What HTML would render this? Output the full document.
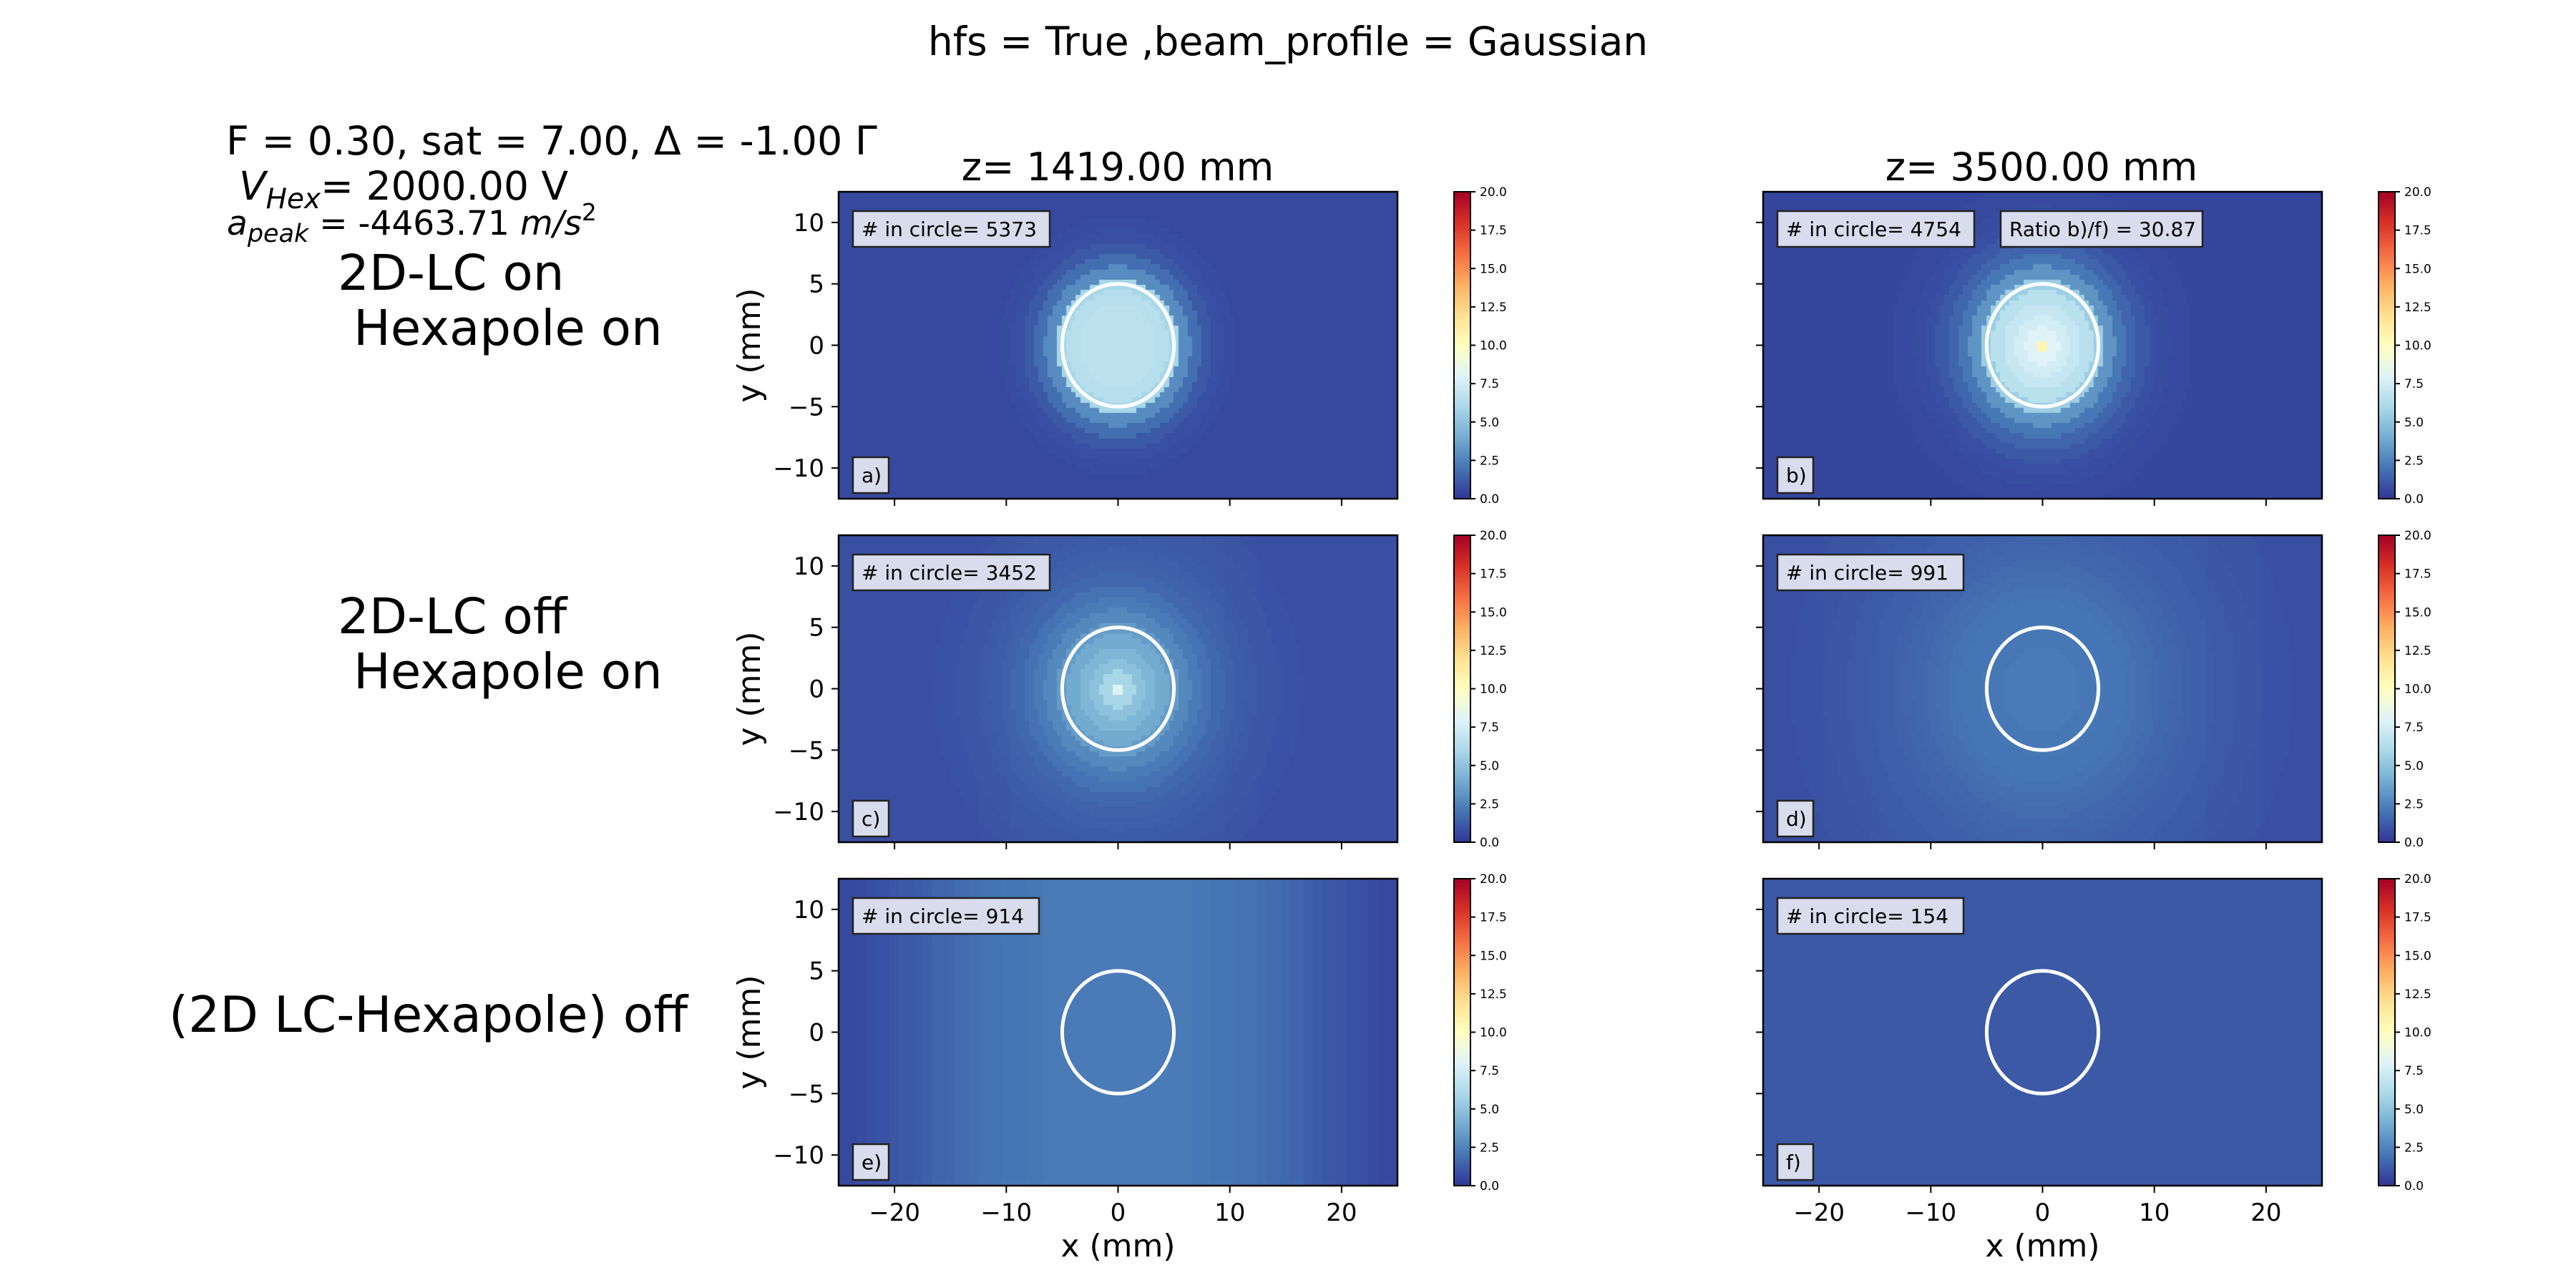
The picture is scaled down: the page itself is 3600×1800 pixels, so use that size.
<!DOCTYPE html>
<html><head><meta charset="utf-8">
<style>
html,body{margin:0;padding:0;background:#fff;}
#wrap{position:relative;width:3600px;height:1800px;overflow:hidden;background:#fff;}
canvas{position:absolute;}
svg{position:absolute;left:0;top:0;}
text{font-family:"DejaVu Sans","Liberation Sans",sans-serif;fill:#000;}
</style></head>
<body>
<div id="wrap">
<svg id="svg" width="3600" height="1800">
<text x="1800" y="77" font-size="55" text-anchor="middle">hfs = True ,beam_profile = Gaussian</text>
<text x="316" y="216" font-size="55.5">F = 0.30, sat = 7.00, Δ = -1.00 Γ</text>
<text x="334" y="279" font-size="55"><tspan font-style="italic">V</tspan><tspan font-style="italic" font-size="39" dy="12">Hex</tspan><tspan dy="-12">= 2000.00 V</tspan></text>
<text x="317" y="328" font-size="47"><tspan font-style="italic">a</tspan><tspan font-style="italic" font-size="35" dy="10">peak</tspan><tspan dy="-10"> = -4463.71 </tspan><tspan font-style="italic">m/s</tspan><tspan font-size="33" dy="-20">2</tspan></text>
<text x="472" y="405" font-size="69">2D-LC on</text>
<text x="494" y="482" font-size="69">Hexapole on</text>
<text x="472" y="885" font-size="69">2D-LC off</text>
<text x="494" y="962" font-size="69">Hexapole on</text>
<text x="236" y="1442" font-size="69.5">(2D LC-Hexapole) off</text>
<text x="1562" y="252" font-size="54" text-anchor="middle">z= 1419.00 mm</text>
<text x="2853" y="252" font-size="54" text-anchor="middle">z= 3500.00 mm</text>
</svg>
</div>
<script>
// ---- data ----
const xTicks = [-20, -10, 0, 10, 20];
const yTicks = [-10, -5, 0, 5, 10];
const cbTicks = [0, 2.5, 5, 7.5, 10, 12.5, 15, 17.5, 20];
const panelLetters = ['a)', 'b)', 'c)', 'd)', 'e)', 'f)'];
const circleCounts = ['5373', '4754', '3452', '991', '914', '154'];
const ratioText = 'Ratio b)/f) = 30.87';
const circleRadius = 5;
// radial profiles (mean counts vs radius in mm, index = mm)
const rProfileA = [6,6,6,6,5.8,5.3,2.2,1.2,0.5,0.2,0.1,0,0,0,0,0,0,0,0,0,0,0,0,0,0,0,0,0,0,0,0,0,0,0,0,0,0,0];
const rProfileB = [10,7.5,7,6.5,6,5,2.6,1.6,1,0.6,0.3,0.2,0.1,0.1,0,0,0,0,0,0,0,0,0,0,0,0,0,0,0,0,0,0,0,0,0,0,0,0];
const rProfileC = [7,5,4,3.5,3,2.5,1.8,1.3,1,0.7,0.5,0.4,0.3,0.2,0.2,0.1,0.1,0,0,0,0,0,0,0,0,0,0,0,0,0,0,0,0,0,0,0,0,0];
const rProfileD = [1.3,1.3,1.3,1.3,1.2,1.2,1.1,1.1,1,0.9,0.8,0.7,0.6,0.5,0.4,0.4,0.3,0.3,0.2,0.2,0.1,0.1,0.1,0,0,0,0,0,0,0,0,0,0,0,0,0,0,0];
const rProfileE = [0,0,0,0,0,0,0,0,0,0,0,0,0,0,0,0,0,0,0,0,0,0,0,0,0,0,0,0,0,0,0,0,0,0,0,0,0,0];
const rProfileF = [0,0,0,0,0,0,0,0,0,0,0,0,0,0,0,0,0,0,0,0,0,0,0,0,0,0,0,0,0,0,0,0,0,0,0,0,0,0];
// background vs |x| (index = mm)
const xProfileA = [0.6,0.6,0.6,0.6,0.6,0.6,0.6,0.6,0.6,0.6,0.6,0.6,0.6,0.6,0.6,0.6,0.6,0.6,0.6,0.6,0.6,0.6,0.6,0.6,0.6,0.6];
const xProfileB = [0.5,0.5,0.5,0.5,0.5,0.5,0.5,0.5,0.5,0.5,0.5,0.5,0.5,0.5,0.5,0.5,0.5,0.5,0.5,0.5,0.5,0.5,0.5,0.5,0.5,0.5];
const xProfileC = [0.9,0.9,0.9,0.9,0.9,0.9,0.9,0.9,0.9,0.9,0.85,0.85,0.85,0.8,0.8,0.8,0.8,0.8,0.8,0.8,0.8,0.8,0.8,0.8,0.8,0.8];
const xProfileD = [0.9,0.9,0.9,0.9,0.9,0.9,0.9,0.9,0.9,0.9,0.9,0.9,0.9,0.9,0.9,0.85,0.85,0.85,0.85,0.85,0.8,0.8,0.8,0.8,0.8,0.8];
const xProfileE = [2.2,2.2,2.2,2.2,2.2,2.2,2.2,2.1,2.1,2,2,1.9,1.9,1.8,1.7,1.6,1.5,1.3,1.2,1.1,1,0.9,0.8,0.7,0.6,0.6];
const xProfileF = [1.1,1.1,1.1,1.1,1.1,1.1,1.1,1.1,1.1,1.1,1.1,1.1,1.1,1.1,1.1,1.1,1.1,1.1,1.1,1.1,1.1,1.1,1.1,1.1,1.1,1.1];

const rProfiles = [rProfileA, rProfileB, rProfileC, rProfileD, rProfileE, rProfileF];
const xProfiles = [xProfileA, xProfileB, xProfileC, xProfileD, xProfileE, xProfileF];

// ---- layout ----
const colLeft = [1172, 2464];
const rowTop = [268, 748, 1228];
const PW = 781, PH = 429;
const XMIN = -25, XMAX = 25, YMIN = -12.5, YMAX = 12.5;
const NX = 120, NY = 60;
const VMAX = 20;
const cmapStops = ['#313695','#4575b4','#74add1','#abd9e9','#e0f3f8','#ffffbf','#fee090','#fdae61','#f46d43','#d73027','#a50026'];

function hex2rgb(h){return [parseInt(h.substr(1,2),16),parseInt(h.substr(3,2),16),parseInt(h.substr(5,2),16)];}
const stopRGB = cmapStops.map(hex2rgb);
function cmap(v){
  let t = Math.max(0, Math.min(1, v / VMAX)) * 10;
  let i = Math.min(9, Math.floor(t)), f = t - i;
  const a = stopRGB[i], b = stopRGB[i+1];
  return 'rgb(' + [0,1,2].map(k => Math.round(a[k] + (b[k]-a[k])*f)).join(',') + ')';
}

const NS = 'http://www.w3.org/2000/svg';
const svg = document.getElementById('svg');
const wrap = document.getElementById('wrap');
function el(tag, attrs, parent){
  const e = document.createElementNS(NS, tag);
  for (const k in attrs) e.setAttribute(k, attrs[k]);
  (parent || svg).appendChild(e);
  return e;
}

for (let p = 0; p < 6; p++) {
  const col = p % 2, row = Math.floor(p / 2);
  const L = colLeft[col], T = rowTop[row];
  const sx = v => L + (v - XMIN) / (XMAX - XMIN) * PW;
  const sy = v => T + (YMAX - v) / (YMAX - YMIN) * PH;

  // heatmap
  const cv = document.createElement('canvas');
  cv.width = PW; cv.height = PH;
  cv.style.left = L + 'px'; cv.style.top = T + 'px';
  
  
  wrap.insertBefore(cv, svg);
  const ctx = cv.getContext('2d');
  const rp = rProfiles[p], xp = xProfiles[p];
  const dx = (XMAX - XMIN) / NX, dy = (YMAX - YMIN) / NY;
  for (let i = 0; i < NX; i++) {
    for (let j = 0; j < NY; j++) {
      const xc = XMIN + (i + 0.5) * dx, yc = YMIN + (j + 0.5) * dy;
      const r = Math.sqrt(xc*xc + yc*yc);
      const ri = Math.min(rp.length - 1, Math.round(r));
      const xi = Math.min(xp.length - 1, Math.round(Math.abs(xc)));
      const v = rp[ri] + xp[xi];
      ctx.fillStyle = cmap(v);
      const x0 = sx(XMIN + i*dx) - L, x1 = sx(XMIN + (i+1)*dx) - L;
      const y0 = sy(YMIN + (j+1)*dy) - T, y1 = sy(YMIN + j*dy) - T;
      ctx.fillRect(Math.floor(x0), Math.floor(y0), Math.ceil(x1 - x0) + 1, Math.ceil(y1 - y0) + 1);
    }
  }

  const g = el('g', {});
  
  

  // circle
  const c = el('ellipse', {cx: sx(0), cy: sy(0), rx: sx(circleRadius) - sx(0), ry: sy(0) - sy(circleRadius), fill: 'none', stroke: '#fff', 'stroke-width': 5}, g);
  
  

  // frame
  const fr = el('rect', {x: L, y: T, width: PW, height: PH, fill: 'none', stroke: '#000', 'stroke-width': 2.5}, g);
  
  

  // ticks
  xTicks.forEach(t => {
    const tk = el('line', {x1: sx(t), x2: sx(t), y1: T + PH, y2: T + PH + 10, stroke: '#000', 'stroke-width': 2}, g);
    
    
    if (row === 2) {
      const tl = el('text', {x: sx(t), y: T + PH + 49, 'font-size': 34, 'text-anchor': 'middle'}, g);
      tl.textContent = (t < 0 ? '\u2212' + Math.abs(t) : '' + t);
      
      
    }
  });
  yTicks.forEach(t => {
    const tk = el('line', {x1: L - 10, x2: L, y1: sy(t), y2: sy(t), stroke: '#000', 'stroke-width': 2}, g);
    
    
    if (col === 0) {
      const tl = el('text', {x: L - 20, y: sy(t) + 12, 'font-size': 34, 'text-anchor': 'end'}, g);
      tl.textContent = (t < 0 ? '\u2212' + Math.abs(t) : '' + t);
      
      
    }
  });
  if (col === 0) {
    const yl = el('text', {x: 0, y: 0, 'font-size': 44, 'text-anchor': 'middle', transform: 'translate(1062,' + (T + PH/2) + ') rotate(-90)'}, g);
    yl.textContent = 'y (mm)';
    
    
  }
  if (row === 2) {
    const xl = el('text', {x: L + PW/2, y: 1756, 'font-size': 44, 'text-anchor': 'middle'}, g);
    xl.textContent = 'x (mm)';
    
    
  }

  // annotation boxes
  function box(x, y, w, h, txt, name) {
    const b = el('rect', {x: x, y: y, width: w, height: h, fill: '#d9dcec', stroke: '#222', 'stroke-width': 2.5}, g);
    
    
    const t = el('text', {x: x + 12, y: y + h/2 + 10, 'font-size': 28}, g);
    t.textContent = txt;
    
    
    return t;
  }
  const cntTxt = '# in circle= ' + circleCounts[p];
  box(L + 20, T + 27, cntTxt.length * 15 + 20, 50, cntTxt, 'circle-count');
  box(L + 20, T + 371, 50, 50, panelLetters[p], 'panel-letter');
  if (p === 1) box(2796, T + 27, 282, 50, ratioText, 'ratio');

  // colorbar
  const cbx = L + 860, cbw = 23;
  const grad = el('linearGradient', {id: 'cbg' + p, x1: 0, y1: 1, x2: 0, y2: 0}, g);
  cmapStops.forEach((s, k) => el('stop', {offset: (k / 10), 'stop-color': s}, grad));
  const cb = el('rect', {x: cbx, y: T, width: cbw, height: PH, fill: 'url(#cbg' + p + ')', stroke: '#000', 'stroke-width': 2}, g);
  
  
  cbTicks.forEach(t => {
    const yy = T + PH - t / VMAX * PH;
    const tk = el('line', {x1: cbx + cbw, x2: cbx + cbw + 7, y1: yy, y2: yy, stroke: '#000', 'stroke-width': 2}, g);
    
    
    const tl = el('text', {x: cbx + cbw + 13, y: yy + 6, 'font-size': 17}, g);
    tl.textContent = t.toFixed(1);
    
    
  });
}
</script>
</body></html>
